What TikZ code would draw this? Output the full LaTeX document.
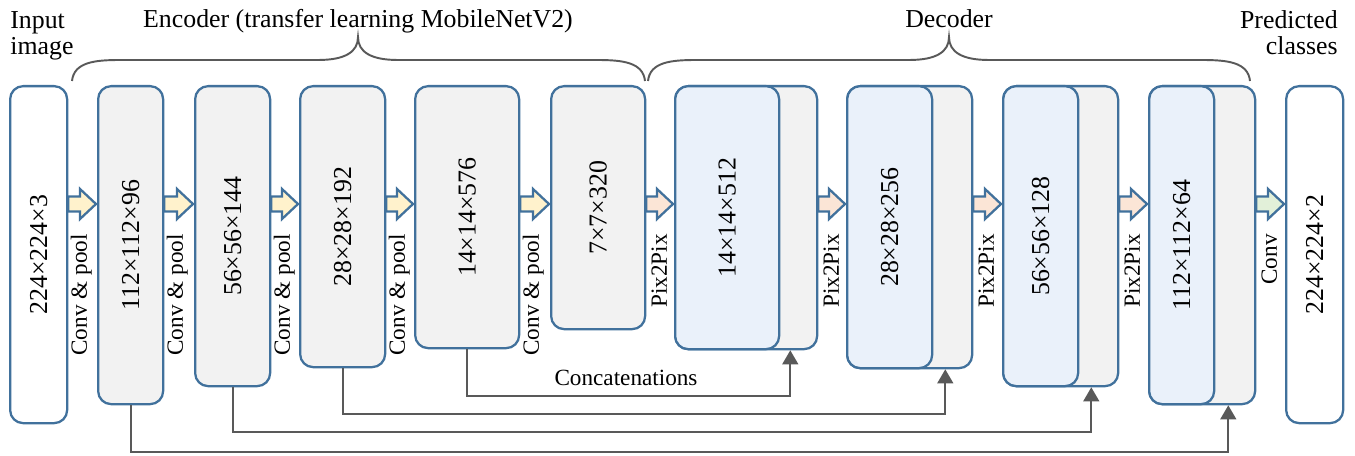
\documentclass[tikz,border=0pt]{standalone}
\usepackage{fontspec}
\setmainfont{Liberation Serif}
\usetikzlibrary{calc,arrows.meta}

\definecolor{boxline}{HTML}{41719C}
\definecolor{encfill}{HTML}{F2F2F2}
\definecolor{decfill}{HTML}{EAF1FA}
\definecolor{convarr}{HTML}{FFF2CC}
\definecolor{pixarr}{HTML}{FBE5D6}
\definecolor{outarr}{HTML}{E2F0D9}
\definecolor{linegray}{HTML}{595959}

\newcommand{\pxu}{0.02cm}

% block arrow between two layers: from, to, fill colour
\newcommand{\blockarrow}[3]{%
  \filldraw[blockarr, fill=#3]
    ($(#1.east |- 0,196.5)$) -- ($(#2.west |- 0,196.5)+(-17,0)$)
    -- ($(#2.west |- 0,189)+(-17,0)$) -- ($(#2.west |- 0,204)+(-1,0)$)
    -- ($(#2.west |- 0,219)+(-17,0)$) -- ($(#2.west |- 0,211.5)+(-17,0)$)
    -- ($(#1.east |- 0,211.5)$) -- cycle;}

\begin{document}
\begin{tikzpicture}[x=0.02cm, y=-0.02cm, font=\fontsize{14.7}{15.3}\selectfont,
	layer/.style={draw=boxline, line width=1.3pt, rounded corners=0.26cm, anchor=north west, inner sep=0pt},
	enclayer/.style={layer, fill=encfill},
	declayer/.style={layer, fill=decfill},
	dimtxt/.style={rotate=90, inner sep=0pt},
	steptxt/.style={rotate=90, anchor=east, inner sep=0pt, font=\fontsize{13.2}{14}\selectfont},
	blockarr/.style={draw=boxline, line width=1.3pt, line join=miter},
	concat/.style={draw=linegray, line width=1.1pt, -{Triangle[length=8pt,width=9pt]}},
	brace/.style={draw=linegray, line width=1.1pt}]
		\useasboundingbox (0,0) rectangle (1355,456);
		
		% layers
		\node[layer, fill=white, minimum width=57*\pxu, minimum height=337*\pxu] (in) at (9,85) {};
		\node[enclayer, minimum width=65*\pxu, minimum height=318*\pxu] (e1) at (97,85) {};
		\node[enclayer, minimum width=75*\pxu, minimum height=300*\pxu] (e2) at (194,85) {};
		\node[enclayer, minimum width=85*\pxu, minimum height=281*\pxu] (e3) at (299,85) {};
		\node[enclayer, minimum width=104*\pxu, minimum height=262*\pxu] (e4) at (414,85) {};
		\node[enclayer, minimum width=94*\pxu, minimum height=243*\pxu] (e5) at (550,85) {};
		
		\node[enclayer, minimum width=142*\pxu, minimum height=263*\pxu] (d1b) at (674,85) {};
		\node[declayer, minimum width=104*\pxu, minimum height=263*\pxu] (d1) at (674,85) {};
		\node[enclayer, minimum width=125*\pxu, minimum height=282*\pxu] (d2b) at (846,85) {};
		\node[declayer, minimum width=85*\pxu, minimum height=282*\pxu] (d2) at (846,85) {};
		\node[enclayer, minimum width=115*\pxu, minimum height=300*\pxu] (d3b) at (1002,85) {};
		\node[declayer, minimum width=75*\pxu, minimum height=300*\pxu] (d3) at (1002,85) {};
		\node[enclayer, minimum width=106*\pxu, minimum height=318*\pxu] (d4b) at (1148,85) {};
		\node[declayer, minimum width=65*\pxu, minimum height=318*\pxu] (d4) at (1148,85) {};
		
		\node[layer, fill=white, minimum width=57*\pxu, minimum height=337*\pxu] (out) at (1285,85) {};
		
		% sizes
		\node[dimtxt] (tin) at (in.center) {224×224×3};
		\node[dimtxt] (t1) at (e1.center) {112×112×96};
		\node[dimtxt] (t2) at (e2.center) {56×56×144};
		\node[dimtxt] (t3) at (e3.center) {28×28×192};
		\node[dimtxt] (t4) at (e4.center) {14×14×576};
		\node[dimtxt] (t5) at (e5.center) {7×7×320};
		\node[dimtxt] (u1) at (d1.center) {14×14×512};
		\node[dimtxt] (u2) at (d2.center) {28×28×256};
		\node[dimtxt] (u3) at (d3.center) {56×56×128};
		\node[dimtxt] (u4) at (d4.center) {112×112×64};
		\node[dimtxt] (tout) at (out.center) {224×224×2};
		
		% steps
		\foreach \a/\b/\c/\t in {in/e1/convarr/Conv \& pool, e1/e2/convarr/Conv \& pool,
				e2/e3/convarr/Conv \& pool, e3/e4/convarr/Conv \& pool, e4/e5/convarr/Conv \& pool,
				e5/d1/pixarr/Pix2Pix, d1b/d2/pixarr/Pix2Pix, d2b/d3/pixarr/Pix2Pix,
				d3b/d4/pixarr/Pix2Pix, d4b/out/outarr/Conv}{
			\blockarrow{\a}{\b}{\c}
			\node[steptxt] (s-\a) at ($(\a.east |- 0,234)+(13,0)$) {\t};
		}
		
		% skip connections
		\coordinate (k1) at ($(d1b.south east)+(-28,0)$);
		\coordinate (k2) at ($(d2b.south east)+(-28,0)$);
		\coordinate (k3) at ($(d3b.south east)+(-28,0)$);
		\coordinate (k4) at ($(d4b.south east)+(-28,0)$);
		\draw[concat] (e4.south) |- (k1 |- 0,396) -- (k1);
		\draw[concat] (e3.south) |- (k2 |- 0,414) -- (k2);
		\draw[concat] (e2.south) |- (k3 |- 0,432) -- (k3);
		\draw[concat] (e1.south) |- (k4 |- 0,452) -- (k4);
		\node[font=\fontsize{13.2}{14}\selectfont, anchor=base] (cat) at (626,385) {Concatenations};
		
		% braces
		\draw[brace] (72,81) .. controls (74,62) and (95,60) .. (120,60) -- (318,60)
			.. controls (345,60) and (358,52) .. (358,37)
			.. controls (358,52) and (371,60) .. (398,60) -- (597,60)
			.. controls (622,60) and (643,62) .. (645,81);
		\draw[brace] (648,81) .. controls (650,62) and (671,60) .. (696,60) -- (909,60)
			.. controls (936,60) and (949,52) .. (949,37)
			.. controls (949,52) and (962,60) .. (989,60) -- (1202,60)
			.. controls (1227,60) and (1248,62) .. (1250,81);
		
		% titles
		\node[anchor=base west, align=left, inner sep=0pt] (intitle) at (10,55) {Input\\image};
		\node[anchor=base] (enctitle) at (358,28) {Encoder (transfer learning MobileNetV2)};
		\node[anchor=base] (dectitle) at (949,28) {Decoder};
		\node[anchor=base east, align=right, inner sep=0pt] (outtitle) at (1338,55) {Predicted\\classes};
	\end{tikzpicture}
\end{document}
